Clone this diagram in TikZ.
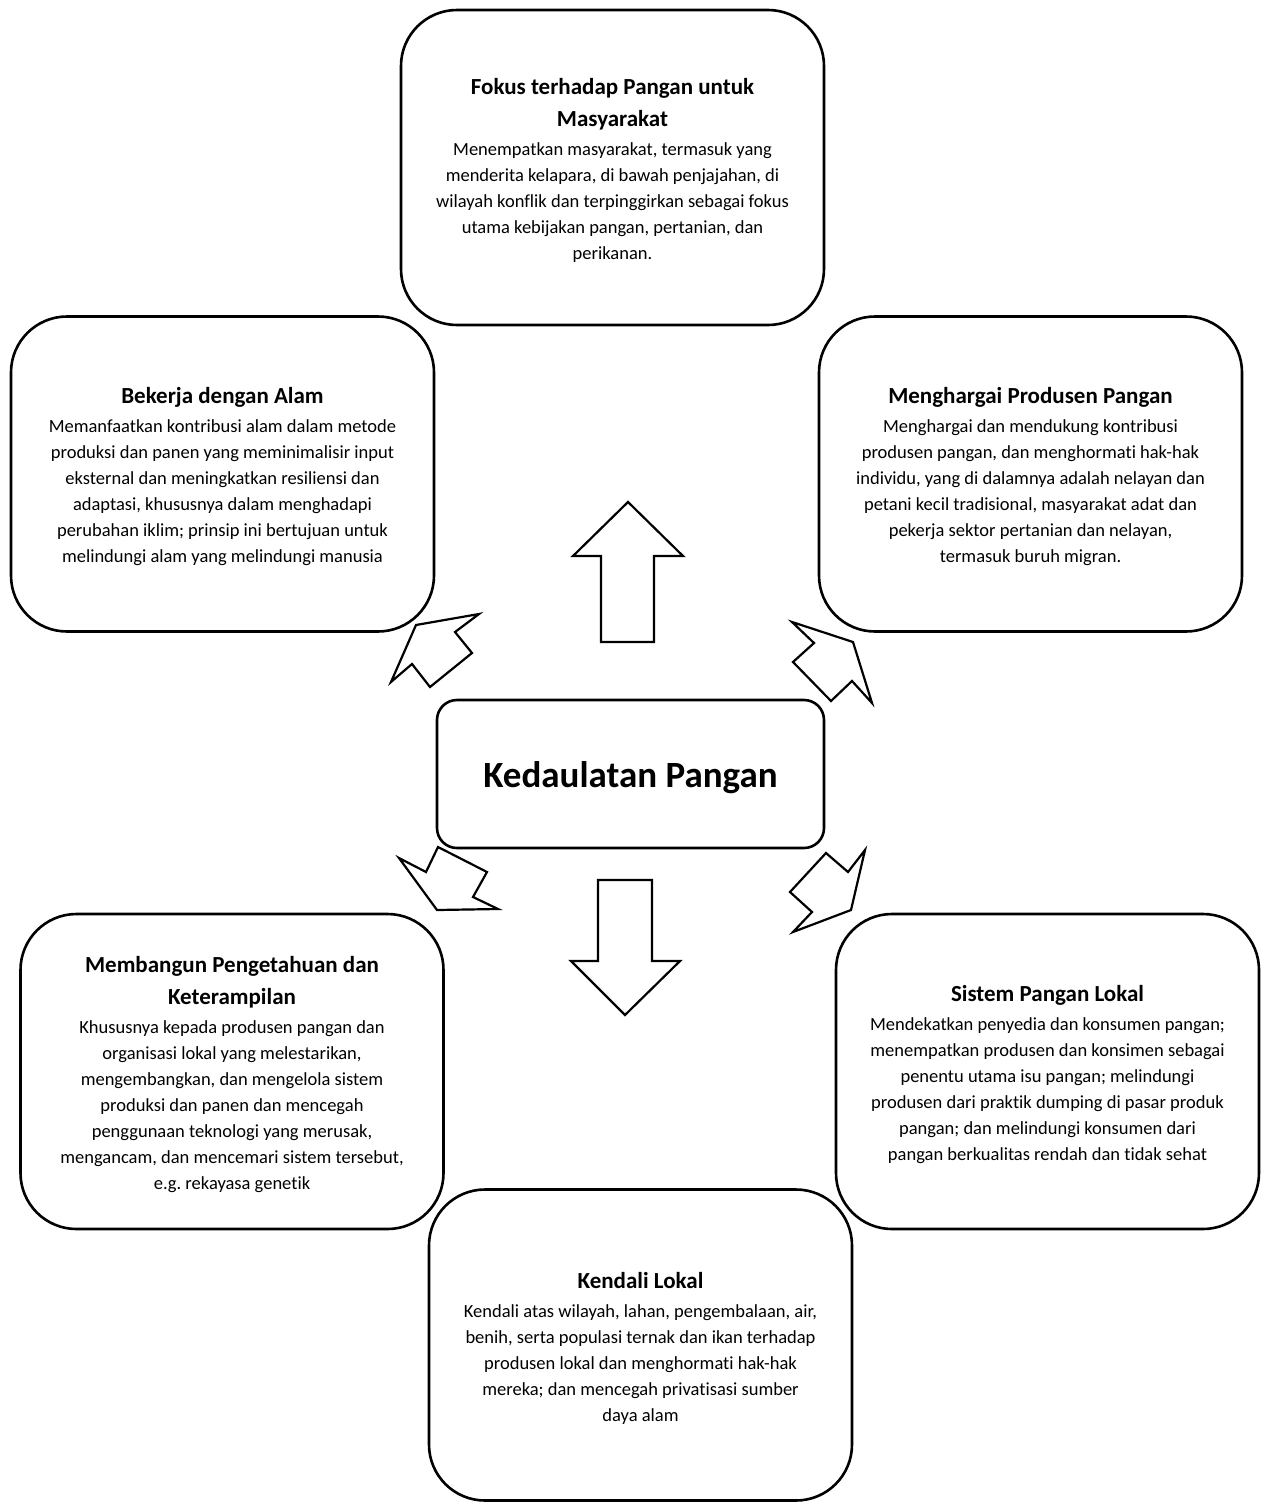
\documentclass[tikz,border=0pt]{standalone}
\usepackage{fontspec}
\setmainfont{Carlito}[Ligatures={NoCommon}]
\frenchspacing
\newcommand{\ttl}{\fontsize{23}{32}\selectfont\bfseries}
\begin{document}
\begin{tikzpicture}[x=1pt,y=-1pt,
  card/.style={draw=black,line width=2.6pt,rounded corners=56pt,fill=white,
    minimum width=423pt,minimum height=315pt,inner sep=0pt},
  cardtext/.style={inner sep=0pt,align=center,font=\fontsize{18.5}{26}\selectfont},
  hub/.style={draw=black,line width=2.6pt,rounded corners=20pt,fill=white,
    minimum width=387pt,minimum height=148pt,inner sep=0pt},
  hubtext/.style={inner sep=0pt,font=\fontsize{37}{40}\selectfont\bfseries},
  blockarrow/.style={draw=black,line width=2.2pt,fill=white,line join=miter}]
\useasboundingbox (0,0) rectangle (1267,1502);
\fill[white] (0,0) rectangle (1267,1502);

\node[card] (top) at (612.5,167.5) {};
\node[cardtext] (toptext) at ([yshift=-2.5pt]top.center) {{\ttl Fokus terhadap Pangan untuk}\\[6pt]{\ttl Masyarakat}\\[3pt]
Menempatkan masyarakat, termasuk yang\\
menderita kelapara, di bawah penjajahan, di\\
wilayah konflik dan terpinggirkan sebagai fokus\\
utama kebijakan pangan, pertanian, dan\\
perikanan.};

\node[card] (left) at (222.5,474) {};
\node[cardtext] (lefttext) at ([yshift=-3pt]left.center) {{\ttl Bekerja dengan Alam}\\[3pt]
Memanfaatkan kontribusi alam dalam metode\\
produksi dan panen yang meminimalisir input\\
eksternal dan meningkatkan resiliensi dan\\
adaptasi, khususnya dalam menghadapi\\
perubahan iklim; prinsip ini bertujuan untuk\\
melindungi alam yang melindungi manusia};

\node[card] (right) at (1030.5,474) {};
\node[cardtext] (righttext) at ([yshift=-3pt]right.center) {{\ttl Menghargai Produsen Pangan}\\[3pt]
Menghargai dan mendukung kontribusi\\
produsen pangan, dan menghormati hak-hak\\
individu, yang di dalamnya adalah nelayan dan\\
petani kecil tradisional, masyarakat adat dan\\
pekerja sektor pertanian dan nelayan,\\
termasuk buruh migran.};

\node[hub] (hubnode) at (630.5,774) {};
\node[hubtext] (hubtxt) at ([yshift=-4pt]hubnode.center) {Kedaulatan Pangan};

\node[card] (bl) at (232,1071.5) {};
\node[cardtext] (bltext) at ([yshift=-3pt]bl.center) {{\ttl Membangun Pengetahuan dan}\\[6pt]{\ttl Keterampilan}\\[3pt]
Khususnya kepada produsen pangan dan\\
organisasi lokal yang melestarikan,\\
mengembangkan, dan mengelola sistem\\
produksi dan panen dan mencegah\\
penggunaan teknologi yang merusak,\\
mengancam, dan mencemari sistem tersebut,\\
e.g. rekayasa genetik};

\node[card] (br) at (1047.5,1071.5) {};
\node[cardtext] (brtext) at ([yshift=-3pt]br.center) {{\ttl Sistem Pangan Lokal}\\[3pt]
Mendekatkan penyedia dan konsumen pangan;\\
menempatkan produsen dan konsimen sebagai\\
penentu utama isu pangan; melindungi\\
produsen dari praktik dumping di pasar produk\\
pangan; dan melindungi konsumen dari\\
pangan berkualitas rendah dan tidak sehat};

\node[card,minimum height=311pt] (bot) at (640.5,1345) {};
\node[cardtext] (bottext) at ([yshift=-3pt]bot.center) {{\ttl Kendali Lokal}\\[3pt]
Kendali atas wilayah, lahan, pengembalaan, air,\\
benih, serta populasi ternak dan ikan terhadap\\
produsen lokal dan menghormati hak-hak\\
mereka; dan mencegah privatisasi sumber\\
daya alam};

% block arrows
\draw[blockarrow] (628,502) -- (683,556) -- (654,556) -- (654,642) -- (601,642) -- (601,556) -- (573,556) -- cycle;
\draw[blockarrow] (625,1015) -- (680,961) -- (652,961) -- (652,880) -- (598,880) -- (598,961) -- (571,961) -- cycle;
\draw[blockarrow] (479,614) -- (416,625) -- (391,682) -- (412,664) -- (430,687) -- (472,653) -- (455,632) -- cycle;
\draw[blockarrow] (792,622) -- (814,643) -- (793,662) -- (831,701) -- (852,681) -- (872,703) -- (853,642) -- cycle;
\draw[blockarrow] (399,858) -- (426,872) -- (438,847) -- (487,872) -- (473,897) -- (498,909) -- (437,910) -- cycle;
\draw[blockarrow] (865,850) -- (848,872) -- (826,853) -- (790,892) -- (812,912) -- (793,932) -- (851,910) -- cycle;
\end{tikzpicture}
\end{document}
